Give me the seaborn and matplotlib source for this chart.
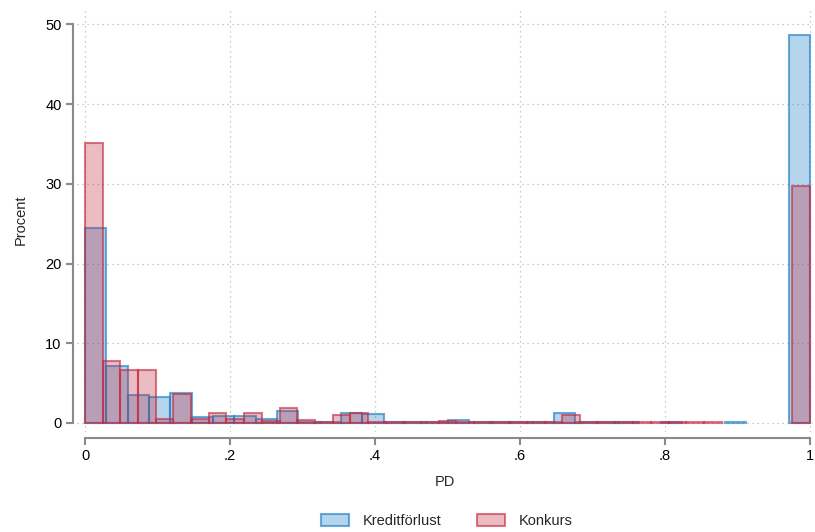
import numpy as np
import pandas as pd
import matplotlib
matplotlib.use("Agg")
import matplotlib.pyplot as plt
from matplotlib.patches import Patch
import seaborn as sns

# Percent of observations per PD bin (34 equal bins for Kreditförlust, 41 for Konkurs)
kredit_pct = [24.5, 7.2, 3.5, 3.3, 3.7, 0.7, 0.9, 0.9, 0.45, 1.5,
              0.15, 0.1, 1.2, 1.1, 0.1, 0.1, 0.1, 0.35, 0.1, 0.1,
              0.1, 0.1, 1.3, 0.1, 0.1, 0.1, 0.0, 0.1, 0.0, 0.0,
              0.1, 0.0, 0.0, 48.6]
konkurs_pct = [35.1, 7.8, 6.6, 6.7, 0.45, 3.6, 0.5, 1.3, 0.5, 1.2,
               0.2, 1.9, 0.4, 0.15, 1.0, 1.2, 0.15, 0.1, 0.15, 0.1,
               0.2, 0.1, 0.1, 0.1, 0.1, 0.1, 0.1, 1.0, 0.1, 0.1,
               0.1, 0.1, 0.1, 0.1, 0.1, 0.1, 0.0, 0.0, 0.0, 0.0,
               29.7]
series_names = ["Kreditförlust", "Konkurs"]
x_ticks = [0, 0.2, 0.4, 0.6, 0.8, 1.0]
x_ticklabels = ["0", ".2", ".4", ".6", ".8", "1"]
y_ticks = [0, 10, 20, 30, 40, 50]

sns.set_theme(style="white")
plt.rcParams["font.family"] = ["Liberation Sans", "DejaVu Sans"]

fig = plt.figure(figsize=(8.15, 5.32), dpi=100)
W, H = 815, 532
left, right, top, bottom = 77, 813, 8, 432
ax = fig.add_axes([left / W, 1 - bottom / H, (right - left) / W, (bottom - top) / H])

blue = (0.12, 0.50, 0.78)
red = (0.76, 0.16, 0.25)
styles = {
    "Kreditförlust": dict(face=(*blue, 0.33), edge=(*blue, 0.65)),
    "Konkurs": dict(face=(*red, 0.31), edge=(*red, 0.62)),
}


def bin_frame(pct):
    n = len(pct)
    edges = np.linspace(0, 1, n + 1)
    centers = (edges[:-1] + edges[1:]) / 2
    return pd.DataFrame({"PD": centers, "pct": np.asarray(pct, dtype=float)}), n


for name, pct in zip(series_names, [kredit_pct, konkurs_pct]):
    df, n_bins = bin_frame(pct)
    before = len(ax.patches)
    sns.histplot(data=df, x="PD", weights="pct", bins=n_bins, binrange=(0, 1),
                 stat="count", element="bars", ax=ax,
                 facecolor=styles[name]["face"], edgecolor=styles[name]["edge"],
                 linewidth=1.5)
    # empty bins are left undrawn
    for p in ax.patches[before:]:
        if p.get_height() == 0:
            p.set_visible(False)

# axis scaling: 0..1 spans 725 px, 0..50 spans ~399 px
ax.set_xlim((left - 85) / 725, (right - 85) / 725)
ax.set_ylim((423 - bottom) / 7.974, (423 - top) / 7.974)

ax.set_xticks(x_ticks)
ax.set_xticklabels(x_ticklabels)
ax.set_yticks(y_ticks)
ax.set_yticklabels([str(v) for v in y_ticks])

ax.grid(True, color="#b8b8b8", linestyle=(0, (1, 3)), linewidth=0.9)
ax.set_axisbelow(True)

for s in ["top", "right"]:
    ax.spines[s].set_visible(False)
spine_col = "#8a8a8a"
ax.spines["left"].set_position(("outward", 3))
ax.spines["bottom"].set_position(("outward", 4))
ax.spines["left"].set_bounds(0, 50)
ax.spines["bottom"].set_bounds(0, 1)
for s in ["left", "bottom"]:
    ax.spines[s].set_color(spine_col)
    ax.spines[s].set_linewidth(1.5)
ax.tick_params(axis="both", which="major", direction="out", length=5, width=1.5,
               color=spine_col, labelsize=10.5, labelcolor="black", pad=3,
               left=True, bottom=True)

ax.set_xlabel("PD", fontsize=10.5, labelpad=9)
ax.set_ylabel("Procent", fontsize=10.5, labelpad=13)

handles = [
    Patch(facecolor=styles[n]["face"], edgecolor=styles[n]["edge"], linewidth=1.5, label=n)
    for n in series_names
]
fig.legend(handles=handles, loc="center", bbox_to_anchor=(447 / W, 1 - 521 / H),
           ncol=2, frameon=False, fontsize=10.5, handlelength=1.9, handleheight=0.9,
           columnspacing=2.4, handletextpad=1.0)

fig.savefig("out.png", dpi=100)
